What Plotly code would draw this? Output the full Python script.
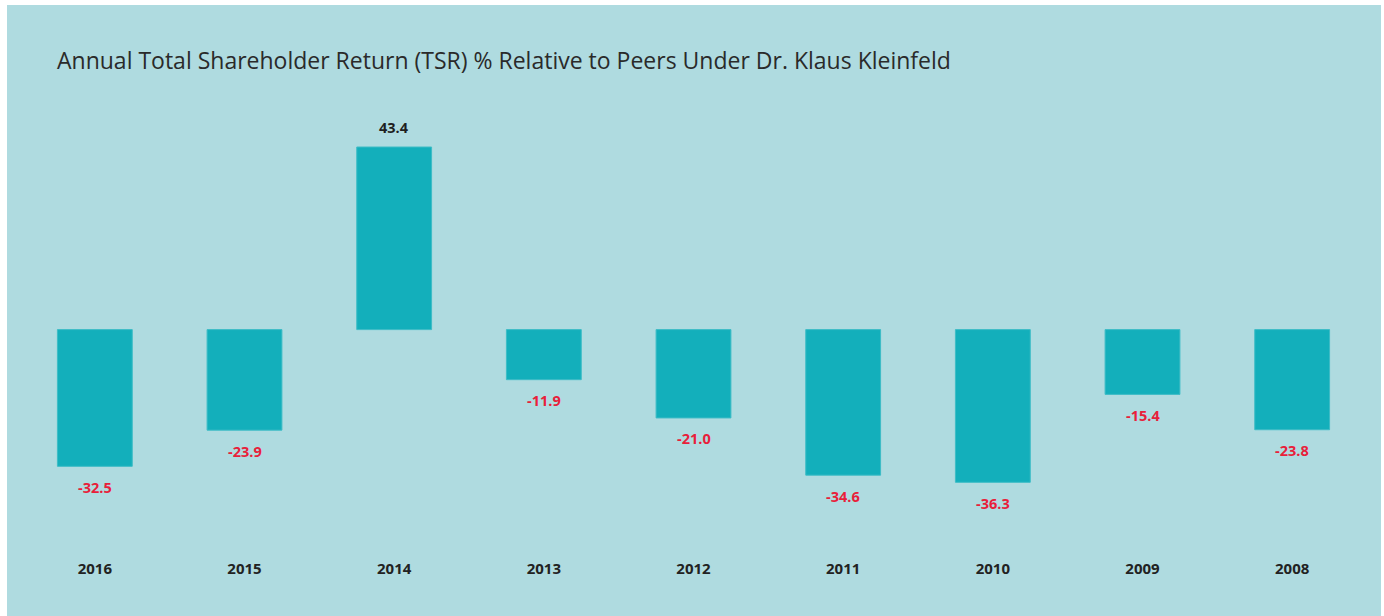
import plotly.graph_objects as go

years = ["2016", "2015", "2014", "2013", "2012", "2011", "2010", "2009", "2008"]
tsr = [-32.5, -23.9, 43.4, -11.9, -21.0, -34.6, -36.3, -15.4, -23.8]
title_text = "Annual Total Shareholder Return (TSR) % Relative to Peers Under Dr. Klaus Kleinfeld"

W, H = 1384, 616
ML, MR, MT, MB = 20, 17, 110, 71
PW = W - ML - MR
PH = H - MT - MB

BG = "#afdbe0"
BAR = "#13afbb"
POS = "#1f1f1f"
NEG = "#e8203a"
FONT = "Open Sans"

fig = go.Figure()
fig.add_trace(go.Bar(
    x=years, y=tsr,
    marker=dict(color=BAR, line=dict(color="#3dbcc6", width=1)),
    hoverinfo="x+y",
))

# value labels: category index positions on the category axis
for i, v in enumerate(tsr):
    fig.add_annotation(
        x=i, y=v, text=f"{v:.1f}", showarrow=False,
        yshift=20 if v >= 0 else -21,
        font=dict(family=FONT, size=14.5, color=POS if v >= 0 else NEG, weight="bold"),
    )

# teal panel (white strip on left and top), pixel edges converted to paper coords
px_left, px_right, px_top, px_bottom = 7, 1381, 5, 620
fig.add_shape(
    type="rect", xref="paper", yref="paper", layer="below",
    x0=(px_left - ML) / PW, x1=(px_right - ML) / PW,
    y0=(MT + PH - px_bottom) / PH, y1=(MT + PH - px_top) / PH,
    fillcolor=BG, line=dict(width=0),
)

fig.update_layout(
    width=W, height=H,
    margin=dict(l=ML, r=MR, t=MT, b=MB),
    paper_bgcolor="white",
    plot_bgcolor="rgba(0,0,0,0)",
    bargap=0.5,
    showlegend=False,
    title=dict(
        text=title_text, x=57 / W, xanchor="left", xref="container",
        y=1 - 61 / H, yanchor="middle", yref="container",
        font=dict(family=FONT, size=23, color="#2a2a2a"),
    ),
    xaxis=dict(
        type="category", range=[-0.5, len(years) - 0.5],
        showgrid=False, zeroline=False, showline=False,
        ticks="outside", ticklen=10, tickcolor="rgba(0,0,0,0)",
        tickfont=dict(family=FONT, size=15, color="#222222", weight="bold"),
    ),
    yaxis=dict(
        range=[-51.2, 52.2], visible=False, showgrid=False, zeroline=False,
    ),
)

fig.write_html("out.html")
